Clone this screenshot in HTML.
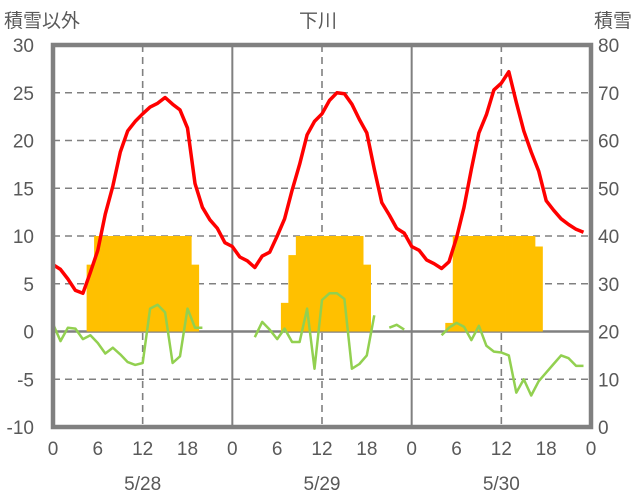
<!DOCTYPE html>
<html><head><meta charset="utf-8">
<style>
body{margin:0;background:#fff;}
svg{display:block;font-family:"Liberation Sans","Noto Sans CJK JP",sans-serif;}
text{fill:#595959;}
</style></head>
<body>
<svg id="chart" width="636" height="501" viewBox="0 0 636 501" xmlns="http://www.w3.org/2000/svg">
<g id="grid"></g>
<g id="bars"></g>
<g id="lines"></g>
<g id="frame"></g>
<g id="labels"></g>
</svg>
<script>
const days = ["5/28","5/29","5/30"];
const hourTicks = [0,6,12,18];
const leftTicks = [30,25,20,15,10,5,0,-5,-10];
const rightTicks = [80,70,60,50,40,30,20,10,0];
const temp = [7.0,6.5,5.5,4.3,4.0,6.2,8.5,12.3,15.2,18.8,21,22,22.8,23.5,23.9,24.5,23.8,23.2,21.3,15.5,13,11.7,10.8,9.3,
 8.9,7.8,7.4,6.7,7.9,8.3,10,11.8,14.8,17.5,20.6,22,22.8,24.2,25,24.9,23.8,22.2,20.8,17,13.5,12.2,10.8,10.3,
 8.9,8.5,7.5,7.1,6.6,7.3,9.8,13,17,20.8,22.7,25.3,26,27.2,24,21,18.8,16.8,13.7,12.7,11.8,11.2,10.7,10.4];
const other = [0.8,-1,0.4,0.3,-0.8,-0.4,-1.2,-2.3,-1.7,-2.4,-3.2,-3.5,-3.3,2.4,2.8,2.0,-3.3,-2.6,2.4,0.4,0.4,null,null,null,
 null,null,null,-0.6,1.0,0.2,-0.8,0.3,-1.1,-1.1,2.4,-3.9,3.3,4,4,3.4,-3.9,-3.4,-2.5,1.7,null,0.4,0.7,0.2,
 null,null,null,null,-0.4,0.4,0.9,0.5,-0.9,0.6,-1.5,-2.1,-2.2,-2.5,-6.4,-5,-6.7,-5.2,-4.3,-3.4,-2.5,-2.8,-3.6,-3.6];
const snow = [0,0,0,0,0,7,10,10,10,10,10,10,10,10,10,10,10,10,10,7,0,0,0,0,
 0,0,0,0,0,0,0,3,8,10,10,10,10,10,10,10,10,10,7,0,0,0,0,0,
 0,0,0,0,0,0.9,10,10,10,10,10,10,10,10,10,10,10,8.9,0,0,0,0,0,0];

const NS="http://www.w3.org/2000/svg";
const X0=53,X1=591,Y0=45,Y1=427;
const x = h => X0 + h*(X1-X0)/72;
const y = v => Y1 - (v+10)*(Y1-Y0)/40;
const yr = v => Y1 - v*(Y1-Y0)/80;
function el(tag, attrs, parent, txt){
  const e=document.createElementNS(NS,tag);
  for(const k in attrs) e.setAttribute(k,attrs[k]);
  if(txt!==undefined) e.textContent=txt;
  parent.appendChild(e); return e;
}
const grid=document.getElementById('grid'), bars=document.getElementById('bars'),
 lines=document.getElementById('lines'), frame=document.getElementById('frame'), labels=document.getElementById('labels');

leftTicks.forEach(v=>{
  if(v===30||v===-10) return;
  const g=el('line',{x1:X0,x2:X1,y1:y(v),y2:y(v),stroke:'#808080','stroke-width':v===0?2.5:1.6,'stroke-dasharray':v===0?'none':'7 5'},grid);
  
  
});
days.forEach((d,i)=>{
  const gx=x(i*24+12);
  const g=el('line',{x1:gx,x2:gx,y1:Y0,y2:Y1,stroke:'#808080','stroke-width':1.6,'stroke-dasharray':'7 5'},grid);
  
  
  if(i>0){
    const s=el('line',{x1:x(i*24),x2:x(i*24),y1:Y0,y2:Y1,stroke:'#808080','stroke-width':2},grid);
    
    
  }
});

snow.forEach((v,h)=>{
  if(!v) return;
  const r=el('rect',{x:x(h-0.5),y:y(v),width:x(h+0.5)-x(h-0.5)+0.4,height:y(0)-y(v),fill:'#FFC000'},bars);
  
  
});

function drawLine(arr,color,w,name){
  let segs=[],cur=[];
  arr.forEach((v,h)=>{ if(v===null){ if(cur.length) segs.push(cur); cur=[]; } else cur.push(x(h).toFixed(1)+','+y(v).toFixed(1)); });
  if(cur.length) segs.push(cur);
  segs.forEach(s=>{
    const p=el('polyline',{points:s.join(' '),fill:'none',stroke:color,'stroke-width':w,'stroke-linejoin':'round'},lines);
    
    
  });
}
drawLine(other,'#92D050',2.5,'other-line');
drawLine(temp,'#FF0000',3.5,'temperature-line');

const fr=el('rect',{x:X0,y:Y0,width:X1-X0,height:Y1-Y0,fill:'none',stroke:'#808080','stroke-width':4.5},frame);



leftTicks.forEach(v=>{
  const t=el('text',{x:34,y:y(v)+7,'text-anchor':'end','font-size':19},labels,String(v));
  
  
});
rightTicks.forEach(v=>{
  const t=el('text',{x:598,y:yr(v)+7,'text-anchor':'start','font-size':19},labels,String(v));
  
  
});
for(let i=0;i<3;i++){
  hourTicks.forEach(h=>{
    const t=el('text',{x:x(i*24+h),y:455,'text-anchor':'middle','font-size':19},labels,String(h));
    
    
  });
  const d=el('text',{x:x(i*24+12),y:490,'text-anchor':'middle','font-size':19},labels,days[i]);
  
  
}
const last=el('text',{x:x(72),y:455,'text-anchor':'middle','font-size':19},labels,'0');



const t1=el('text',{x:4,y:27,'font-size':19},labels,'積雪以外');


const t2=el('text',{x:318,y:27,'text-anchor':'middle','font-size':19},labels,'下川');


const t3=el('text',{x:632,y:27,'text-anchor':'end','font-size':19},labels,'積雪');


</script>
</body></html>
